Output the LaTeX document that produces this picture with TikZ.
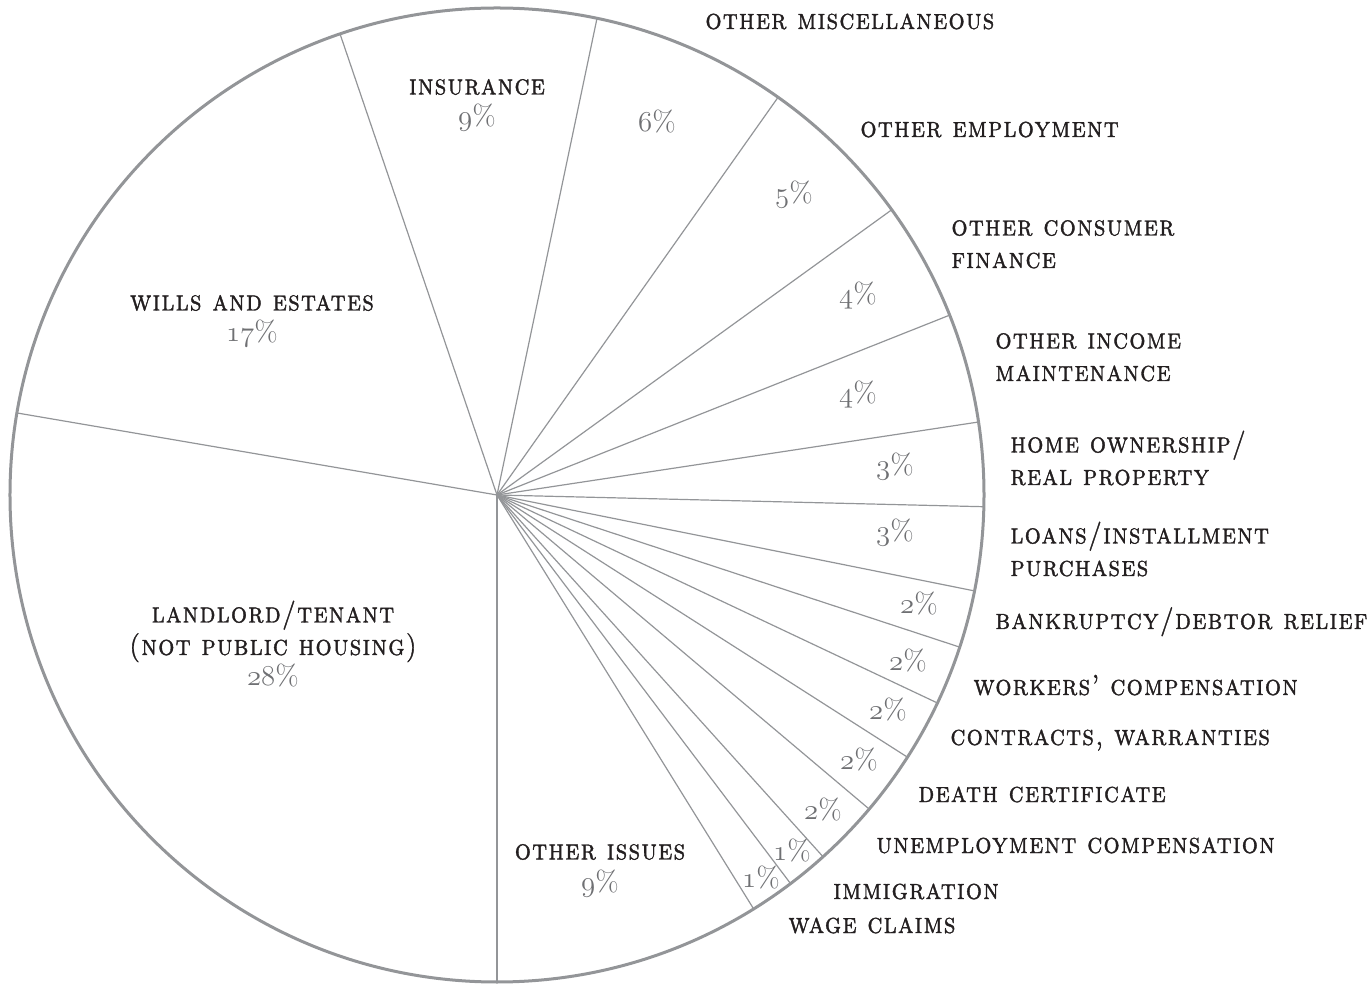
\documentclass[tikz,border=0pt]{standalone}
\usepackage{fontspec}
\usepackage{xcolor}
\newfontfamily\capsfont{lmromancaps10-regular.otf}[LetterSpace=4, FakeStretch=0.88, FakeBold=1.2]
\definecolor{labeltext}{HTML}{231F20}
\definecolor{pctgray}{HTML}{6F7073}
\definecolor{rimgray}{HTML}{939598}
\newcommand{\osnum}[1]{{\usefont{OML}{cmm}{m}{it}#1}}
\newcommand{\pct}[1]{\osnum{#1}\%}
\tikzstyle{rim} = [draw=rimgray, line width=1.5pt]
\tikzstyle{spoke} = [draw=rimgray, line width=0.6pt]
\tikzstyle{cat} = [inner sep=0pt, text=labeltext,
    font=\fontsize{14.5}{16.25}\capsfont, align=center]
\tikzstyle{side} = [cat, anchor=base west, align=left]
\tikzstyle{share} = [inner sep=0pt, text=pctgray,
    font=\fontsize{14.4}{16}\selectfont]

\begin{document}
\begin{tikzpicture}[x=0.5pt, y=0.5pt, node distance=15.5pt]
        \useasboundingbox (-497,-489) rectangle (873,495);

        % Pie
        \coordinate (centre) at (0,0);
        \draw [rim] (centre) circle [radius=243.5pt];
        \draw [spoke] (centre) -- (270:243.5pt);
        \draw [spoke] (centre) -- (170.3:243.5pt);
        \draw [spoke] (centre) -- (108.8:243.5pt);
        \draw [spoke] (centre) -- (78.15:243.5pt);
        \draw [spoke] (centre) -- (54.75:243.5pt);
        \draw [spoke] (centre) -- (35.85:243.5pt);
        \draw [spoke] (centre) -- (21.67:243.5pt);
        \draw [spoke] (centre) -- (8.62:243.5pt);
        \draw [spoke] (centre) -- (-1.38:243.5pt);
        \draw [spoke] (centre) -- (-11.36:243.5pt);
        \draw [spoke] (centre) -- (-18.2:243.5pt);
        \draw [spoke] (centre) -- (-25.28:243.5pt);
        \draw [spoke] (centre) -- (-32.57:243.5pt);
        \draw [spoke] (centre) -- (-40.16:243.5pt);
        \draw [spoke] (centre) -- (-47.97:243.5pt);
        \draw [spoke] (centre) -- (-52.93:243.5pt);
        \draw [spoke] (centre) -- (-58.2:243.5pt);

        % Labels inside
        \node (insurance) [cat] at (-20,408) {insurance};
        \node (insurancepct) [share, below of=insurance] {\pct{9}};
        \node (wills) [cat] at (-245,192) {wills and estates};
        \node (willspct) [share, below of=wills] {\pct{17}};
        \node (landlord) [cat] at (-224,-136.5) {landlord/tenant\\(not public housing)};
        \node (landlordpct) [share, below of=landlord, yshift=-6.5pt] {\pct{28}};
        \node (issues) [cat] at (103,-357) {other issues};
        \node (issuespct) [share, below of=issues] {\pct{9}};

        % Percentages on the right
        \node (miscpct) [share] at (160,373) {\pct{6}};
        \node (employpct) [share] at (297,300) {\pct{5}};
        \node (consumerpct) [share] at (361,199) {\pct{4}};
        \node (incomepct) [share] at (361,100) {\pct{4}};
        \node (homepct) [share] at (398,28) {\pct{3}};
        \node (loanspct) [share] at (398,-38) {\pct{3}};
        \node (bankruptpct) [share] at (422,-109) {\pct{2}};
        \node (workerspct) [share] at (411,-166) {\pct{2}};
        \node (contractspct) [share] at (391,-215) {\pct{2}};
        \node (deathpct) [share] at (362,-265) {\pct{2}};
        \node (unemploypct) [share] at (326,-315) {\pct{2}};
        \node (immigpct) [share] at (295,-356) {\pct{1}};
        \node (wagepct) [share] at (264,-383) {\pct{1}};

        % Labels outside
        \node (misc) [side] at (208,466) {other miscellaneous};
        \node (employ) [side] at (363,358) {other employment};
        \node (consumer) [side] at (454,227) {other consumer\\finance};
        \node (income) [side] at (498,114) {other income\\maintenance};
        \node (home) [side] at (513,10) {home ownership/\\real property};
        \node (loans) [side] at (513,-81) {loans/installment\\purchases};
        \node (bankrupt) [side] at (498,-134) {bankruptcy/debtor relief};
        \node (workers) [side] at (476,-200) {workers’ compensation};
        \node (contracts) [side] at (453,-250) {contracts, warranties};
        \node (death) [side] at (421,-307) {death certificate};
        \node (unemploy) [side] at (379,-358) {unemployment compensation};
        \node (immig) [side] at (336,-404) {immigration};
        \node (wage) [side] at (291,-438) {wage claims};

    \end{tikzpicture}
\end{document}
